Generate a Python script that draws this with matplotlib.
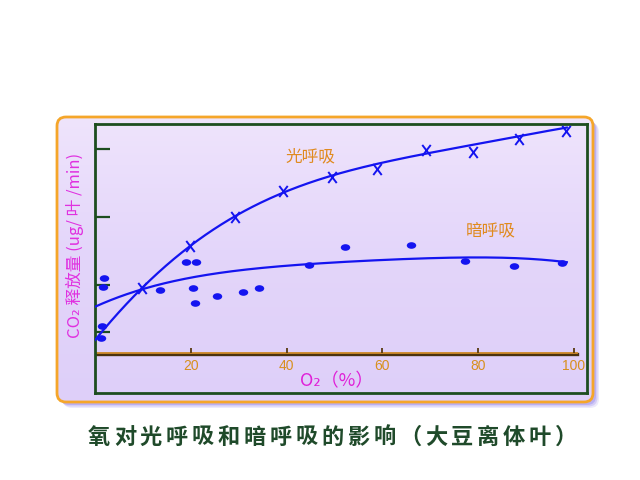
import numpy as np
import matplotlib
matplotlib.use("Agg")
import matplotlib.pyplot as plt
from matplotlib.patches import FancyBboxPatch
from matplotlib.path import Path
from matplotlib.colors import LinearSegmentedColormap

plt.rcParams['font.family'] = ['Noto Sans CJK SC', 'DejaVu Sans']

# ---- data ----
light_x = [9.9, 19.8, 29.3, 39.2, 49.4, 58.9, 69.0, 78.9, 88.6, 98.3]
light_y = [0.95, 1.57, 2.00, 2.38, 2.59, 2.70, 2.98, 2.95, 3.15, 3.26]

dark_x = [1.8, 1.7, 1.5, 1.3, 13.5, 18.9, 21.1, 20.4, 20.9, 25.5, 30.8, 34.2,
          44.7, 52.2, 66.0, 77.2, 87.5, 97.5]
dark_y = [1.10, 0.97, 0.40, 0.22, 0.93, 1.34, 1.34, 0.95, 0.74, 0.84, 0.90, 0.96,
          1.29, 1.56, 1.59, 1.35, 1.28, 1.32]

# trend curves
curve_x = [0, 10, 20, 30, 40, 50, 60, 70, 80, 90, 98]
light_curve_y = [0.19, 0.96, 1.62, 2.04, 2.37, 2.60, 2.81, 2.96, 3.07, 3.20, 3.31]
dark_curve_y = [0.68, 0.94, 1.12, 1.21, 1.27, 1.33, 1.38, 1.40, 1.40, 1.38, 1.34]

x_ticks = [20, 40, 60, 80, 100]
x_tick_labels = ['20', '40', '60', '80', '100']
y_ticks = [0.31, 1.0, 2.0, 3.0]

title = '氧对光呼吸和暗呼吸的影响（大豆离体叶）'
ylabel = 'CO₂ 释放量 (ug/ 叶 /min)'
xlabel = 'O₂（%）'
label_light = '光呼吸'
label_dark = '暗呼吸'

# ---- figure ----
W, H = 640, 480
fig = plt.figure(figsize=(6.4, 4.8), dpi=100)
fig.patch.set_facecolor('white')

bg = fig.add_axes([0, 0, 1, 1])
bg.set_xlim(0, W)
bg.set_ylim(H, 0)
bg.axis('off')

# shadow
for off, a in [(6, 0.15), (4.5, 0.25), (3, 0.35)]:
    sh = FancyBboxPatch((57 + off, 117 + off), 536, 285,
                        boxstyle="round,pad=0,rounding_size=9",
                        fc='#8a78e8', ec='none', alpha=a, zorder=1)
    bg.add_patch(sh)

box = FancyBboxPatch((57, 117), 536, 285, boxstyle="round,pad=0,rounding_size=9",
                     fc='#e0d2f9', ec='none', zorder=2)
bg.add_patch(box)
grad = np.linspace(0, 1, 256).reshape(-1, 1)
cm = LinearSegmentedColormap.from_list('g', ['#efe4fc', '#e3d5fa', '#decff9'])
im = bg.imshow(grad, extent=[57, 593, 402, 117], cmap=cm, aspect='auto', zorder=2.5)
im.set_clip_path(box)
box2 = FancyBboxPatch((57, 117), 536, 285, boxstyle="round,pad=0,rounding_size=9",
                      fc='none', ec='#f5a62a', lw=2.0, zorder=3)
bg.add_patch(box2)

# caption, characters spread evenly as in the picture
x_start, x_end = 99, 566
for i, ch in enumerate(title):
    cx = x_start + (x_end - x_start) * i / (len(title) - 1)
    bg.text(cx, 437, ch, ha='center', va='center', fontsize=16, fontweight='bold',
            color='#1f4a2a', zorder=5)

# ---- main axes ----
x0px, x1px, y0px, y1px = 95, 587, 124, 393
ax = fig.add_axes([x0px / W, 1 - y1px / H, (x1px - x0px) / W, (y1px - y0px) / H])
ax.set_facecolor('none')
ax.set_xlim(0, (x1px - x0px) / 4.79)
ax.set_ylim((353 - y1px) / 68, (353 - y0px) / 68)
for s in ax.spines.values():
    s.set_color('#1d4d1f')
    s.set_linewidth(2.0)

ax.set_xticks([])
ax.set_yticks(y_ticks)
ax.set_yticklabels([])
ax.tick_params(axis='y', direction='in', length=11, width=1.6, color='#1d4d1f')

# baseline (x-axis)
xm = (577 - x0px) / (x1px - x0px)
ax.axhline(-0.012, xmin=0, xmax=xm, color='#4a3210', lw=2.4, zorder=2)
ax.axhline(0.004, xmin=0, xmax=xm, color='#d08a2a', lw=1.3, zorder=2.1)
tick_mark = Path([(0, 0), (0, 1)], [Path.MOVETO, Path.LINETO])
ax.plot(x_ticks, [0] * len(x_ticks), ls='none', marker=tick_mark, ms=7, mew=1.3,
        color='#5a3a10', zorder=2.2)
for xt, lab in zip(x_ticks, x_tick_labels):
    ax.text(xt, -0.19, lab, ha='center', va='center', fontsize=10,
            color='#d8901e', family='Liberation Sans')

# markers
xmark = Path([(-0.38, -0.5), (0.38, 0.5), (-0.38, 0.5), (0.38, -0.5)],
             [Path.MOVETO, Path.LINETO, Path.MOVETO, Path.LINETO])
circ = Path.unit_circle()
ell = Path(circ.vertices * np.array([1.0, 0.7]), circ.codes)

blue = '#1414f0'
xs = np.linspace(0, 98.5, 300)
wts = [6, 2, 1, 1, 1, 1, 1, 1, 1, 1, 3]
pl = np.polyfit(curve_x, light_curve_y, 5, w=wts)
pd_ = np.polyfit(curve_x, dark_curve_y, 4, w=wts)
ax.plot(xs, np.polyval(pl, xs), color=blue, lw=1.6, zorder=3)
ax.plot(xs, np.polyval(pd_, xs), color=blue, lw=1.6, zorder=3)
ax.plot(light_x, light_y, ls='none', marker=xmark, ms=8, mew=1.4, color=blue, zorder=4)
ax.plot(dark_x, dark_y, ls='none', marker=ell, ms=6.8, mec='none', mfc=blue, zorder=4)

ax.text(44.9, 2.88, label_light, ha='center', va='center', fontsize=12, color='#e08a1e')
ax.text(82.7, 1.79, label_dark, ha='center', va='center', fontsize=12, color='#e08a1e')

ax.text(50.5, -0.42, xlabel, ha='center', va='center', fontsize=13, color='#e020d8')

bg.text(75, 245, ylabel, rotation=90, ha='center', va='center', fontsize=12,
        color='#e030e0', zorder=5)

fig.savefig('out.png', dpi=100)
